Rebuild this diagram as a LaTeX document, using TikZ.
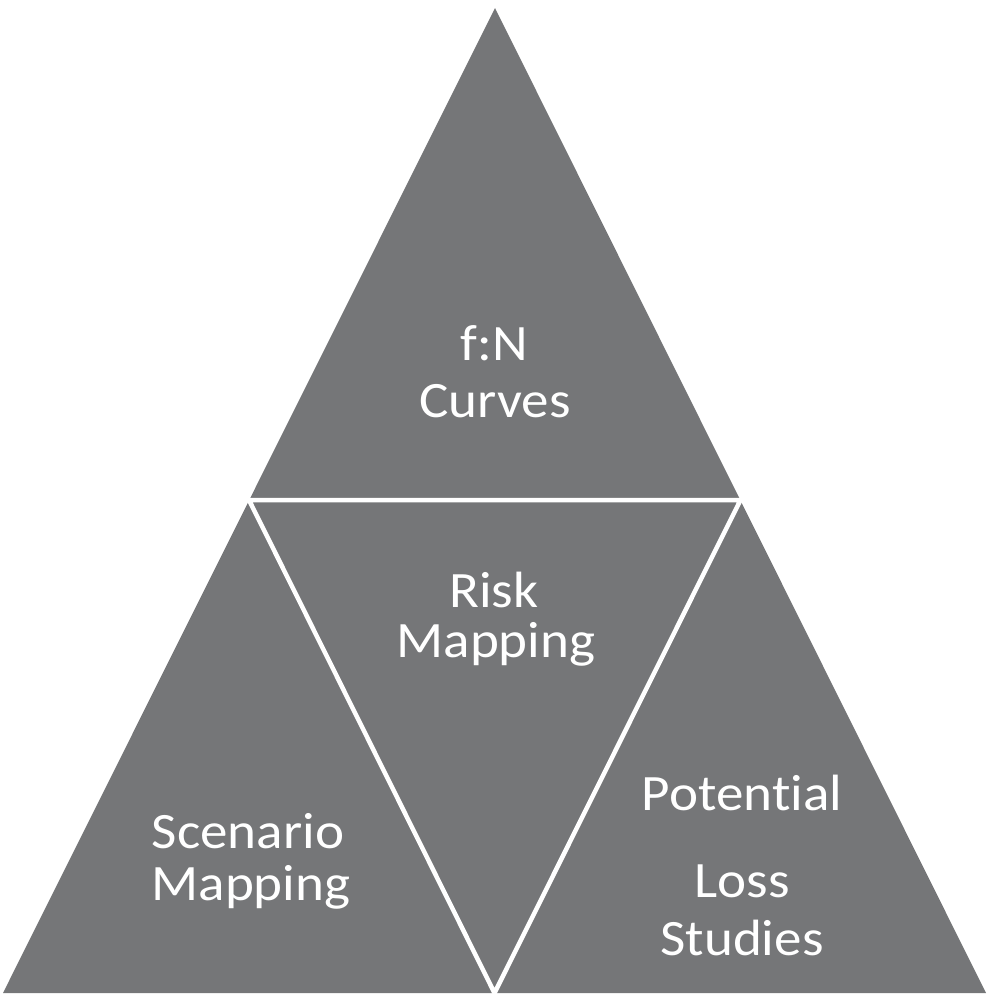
\documentclass[tikz,border=0pt]{standalone}
\usepackage{fontspec}
\setmainfont{Carlito}[FakeStretch=1.08,Ligatures=NoCommon]
\definecolor{trigray}{RGB}{117,118,120}
\begin{document}
\begin{tikzpicture}[x=1pt,y=-1pt,
  lbl/.style={text=white,anchor=base,inner sep=0pt,font=\fontsize{51}{60}\selectfont},
  divider/.style={draw=white,line width=4.5pt,line join=round}]
\useasboundingbox (0,0) rectangle (989,997);
\coordinate (A) at (495,8);
\coordinate (L) at (3,993);
\coordinate (R) at (986,993);
\coordinate (ML) at (249,500);
\coordinate (MR) at (740.5,500);
\coordinate (MB) at (494.5,993);
\fill[trigray] (L) -- (A) -- (R) -- cycle;
\draw[divider] (ML) -- (MR) -- (MB) -- cycle;
\node[lbl] (fn) at (494,360) {f:N};
\node[lbl] (curves) at (495,417) {Curves};
\node[lbl] (risk) at (494,607) {Risk};
\node[lbl] (rmap) at (496,657) {Mapping};
\node[lbl] (scen) at (248,848) {Scenario};
\node[lbl] (smap) at (251,900) {Mapping};
\node[lbl] (pot) at (742,810) {Potential};
\node[lbl] (loss) at (742,897) {Loss};
\node[lbl] (stud) at (742,955) {Studies};
\end{tikzpicture}
\end{document}
